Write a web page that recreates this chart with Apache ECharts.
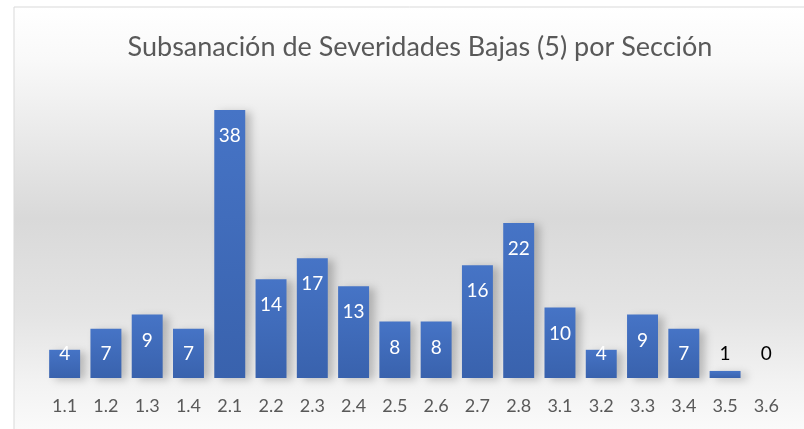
<!DOCTYPE html>
<html>
<head>
<meta charset="utf-8">
<script src="https://cdn.jsdelivr.net/npm/echarts@6/dist/echarts.min.js"></script>
<style>
html, body { margin: 0; padding: 0; background: #fff; }
#main { width: 804px; height: 429px; }
</style>
</head>
<body>
<div id="main"></div>
<script>
var secciones = ['1.1','1.2','1.3','1.4','2.1','2.2','2.3','2.4','2.5','2.6','2.7','2.8','3.1','3.2','3.3','3.4','3.5','3.6'];
var subsanadas = [4, 7, 9, 7, 38, 14, 17, 13, 8, 8, 16, 22, 10, 4, 9, 7, 1, 0];

var myChart = echarts.init(document.getElementById('main'));

// small bars get their label outside, in black
var datos = subsanadas.map(function (v) {
    if (v < 3) {
        return { value: v, label: { color: '#000' } };
    }
    return v;
});

var option = {
    animation: false,
    graphic: [{
        type: 'rect',
        z: -10,
        shape: { x: 14, y: 7, width: 820, height: 440 },
        style: {
            stroke: '#d9d9d9',
            lineWidth: 1,
            fill: new echarts.graphic.LinearGradient(0, 0, 0, 1, [
                { offset: 0, color: '#ffffff' },
                { offset: 0.12, color: '#f9f9f9' },
                { offset: 0.48, color: '#d9d9d9' },
                { offset: 0.7, color: '#e4e4e4' },
                { offset: 0.86, color: '#f3f3f3' },
                { offset: 1, color: '#fdfdfd' }
            ])
        }
    }],
    title: {
        text: 'Subsanación de Severidades Bajas (5) por Sección',
        left: 415,
        textAlign: 'center',
        top: 29,
        textStyle: {
            fontFamily: 'Lato',
            fontWeight: 'normal',
            fontSize: 27,
            color: '#595959'
        }
    },
    grid: {
        left: 44,
        right: 17,
        top: 96,
        bottom: 51
    },
    xAxis: {
        type: 'category',
        data: secciones,
        axisLine: { show: false },
        axisTick: { show: false },
        axisLabel: {
            margin: 19,
            fontFamily: 'Lato',
            fontSize: 18,
            color: '#595959'
        }
    },
    yAxis: {
        type: 'value',
        min: 0,
        max: 40,
        show: false,
        splitLine: { show: false }
    },
    series: [{
        type: 'bar',
        data: datos,
        barCategoryGap: '25%',
        itemStyle: {
            color: new echarts.graphic.LinearGradient(0, 0, 0, 1, [
                { offset: 0, color: '#4674c6' },
                { offset: 1, color: '#3962ad' }
            ]),
            shadowColor: 'rgba(0,0,0,0.22)',
            shadowBlur: 8,
            shadowOffsetX: 6,
            shadowOffsetY: 2
        },
        label: {
            show: true,
            position: 'insideTop',
            color: '#fff',
            fontFamily: 'Lato',
            fontSize: 19
        },
        labelLayout: function (p) {
            var base = p.rect.y + p.rect.height;
            var y = Math.min(p.rect.y + 26, base - 24);
            return {
                x: p.rect.x + p.rect.width / 2,
                y: y,
                align: 'center',
                verticalAlign: 'middle'
            };
        }
    }]
};

myChart.setOption(option);
</script>
</body>
</html>
